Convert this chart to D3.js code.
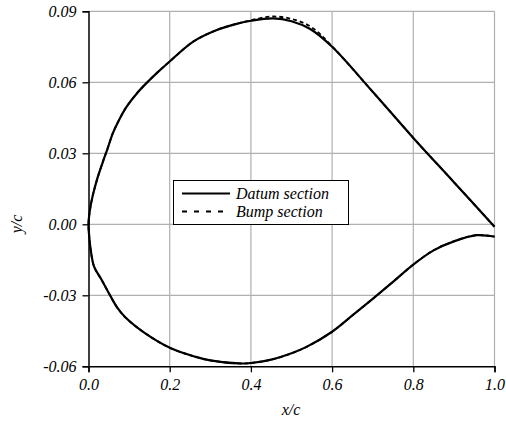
<!DOCTYPE html>
<html><head><meta charset="utf-8">
<script src="https://cdn.jsdelivr.net/npm/d3@7"></script>
<style>body{margin:0;background:#fff}svg{display:block}</style>
</head><body><svg id="c" width="506" height="421"></svg>
<script>
const FONT = "Liberation Serif";
// Datum section (upper surface, trailing edge -> leading edge)
const datumUpperX = [1.0, 0.90, 0.80, 0.70, 0.60, 0.546, 0.50, 0.455, 0.40, 0.36, 0.316, 0.258, 0.20, 0.17, 0.143, 0.12, 0.094, 0.075, 0.06, 0.047, 0.035, 0.022, 0.01, 0.003, 0.0];
const datumUpperY = [-0.001, 0.0178, 0.0365, 0.0560, 0.0750, 0.0825, 0.0858, 0.0870, 0.0860, 0.0845, 0.0821, 0.0772, 0.0688, 0.0642, 0.0597, 0.0555, 0.0497, 0.0440, 0.0385, 0.0320, 0.0262, 0.0195, 0.0118, 0.0055, 0.0];
// Datum section (lower surface, leading edge -> trailing edge)
const datumLowerX = [0.0, 0.002, 0.006, 0.014, 0.0325, 0.053, 0.07, 0.09, 0.139, 0.203, 0.262, 0.30, 0.37, 0.40, 0.45, 0.50, 0.537, 0.60, 0.65, 0.70, 0.75, 0.80, 0.85, 0.90, 0.956, 1.0];
const datumLowerY = [0.0, -0.0055, -0.0115, -0.0180, -0.0235, -0.0300, -0.0350, -0.0392, -0.0460, -0.0524, -0.0559, -0.0575, -0.0588, -0.0586, -0.0572, -0.0545, -0.0518, -0.0454, -0.0385, -0.0315, -0.0243, -0.0170, -0.0110, -0.0072, -0.0046, -0.0052];
// Bump section (upper surface differs near the crest)
const bumpUpperX = [1.0, 0.90, 0.80, 0.70, 0.60, 0.55, 0.50, 0.45, 0.40, 0.36, 0.316, 0.258, 0.20, 0.17, 0.143, 0.12, 0.094, 0.075, 0.06, 0.047, 0.035, 0.022, 0.01, 0.003, 0.0];
const bumpUpperY = [-0.001, 0.0178, 0.0365, 0.0560, 0.0752, 0.0832, 0.0868, 0.0878, 0.0862, 0.0845, 0.0821, 0.0772, 0.0688, 0.0642, 0.0597, 0.0555, 0.0497, 0.0440, 0.0385, 0.0320, 0.0262, 0.0195, 0.0118, 0.0055, 0.0];
const bumpLowerX = datumLowerX;
const bumpLowerY = datumLowerY;

const xTicks = [0.0, 0.2, 0.4, 0.6, 0.8, 1.0];
const yTicks = [-0.06, -0.03, 0.00, 0.03, 0.06, 0.09];
const seriesNames = ["Datum section", "Bump section"];

const svg = d3.select("#c");
const L = 88.5, R = 494.5, T = 11.3, B = 366.3;
const x = d3.scaleLinear().domain([0, 1]).range([L, R]);
const y = d3.scaleLinear().domain([-0.06, 0.09]).range([B, T]);

// grid
const g = svg.append("g");
g.selectAll("line.vx").data(xTicks.slice(1)).join("line")
  .attr("x1", d => x(d)).attr("x2", d => x(d)).attr("y1", T).attr("y2", B)
  .attr("stroke", "#b0b0b0").attr("stroke-width", 1.2);
g.selectAll("line.hy").data(yTicks.slice(1)).join("line")
  .attr("y1", d => y(d)).attr("y2", d => y(d)).attr("x1", L).attr("x2", R)
  .attr("stroke", "#b0b0b0").attr("stroke-width", 1.2);

// axes
const fmtY = d => d3.format(".2f")(d).replace("\u2212", "-");
const xa = svg.append("g").attr("transform", `translate(0,${B})`)
  .call(d3.axisBottom(x).tickValues(xTicks).tickFormat(d3.format(".1f")).tickSize(6).tickPadding(6));
const ya = svg.append("g").attr("transform", `translate(${L},0)`)
  .call(d3.axisLeft(y).tickValues(yTicks).tickFormat(fmtY).tickSize(6).tickPadding(6));
[xa, ya].forEach(a => {
  a.attr("font-family", FONT).attr("font-size", 16);
  a.select(".domain").attr("stroke", "#000").attr("stroke-width", 1.5);
  a.selectAll(".tick line").attr("stroke", "#000").attr("stroke-width", 1.3);
  a.selectAll(".tick text").attr("fill", "#000").attr("font-style", "italic");
});

// curves
const line = d3.line().x(d => x(d[0])).y(d => y(d[1])).curve(d3.curveCatmullRom.alpha(0.5));
const datumPts = datumUpperX.map((v, i) => [v, datumUpperY[i]]).concat(datumLowerX.map((v, i) => [v, datumLowerY[i]]).slice(1));
const bumpPts = bumpUpperX.map((v, i) => [v, bumpUpperY[i]]).concat(bumpLowerX.map((v, i) => [v, bumpLowerY[i]]).slice(1));
svg.append("path").attr("d", line(datumPts)).attr("fill", "none").attr("stroke", "#000").attr("stroke-width", 2.2);
svg.append("path").attr("d", line(bumpPts)).attr("fill", "none").attr("stroke", "#000").attr("stroke-width", 1.8).attr("stroke-dasharray", "4,3");

// legend
const lg = svg.append("g").attr("font-family", FONT).attr("font-style", "italic").attr("font-size", 16);
lg.append("rect").attr("x", 173.5).attr("y", 180.5).attr("width", 175).attr("height", 44)
  .attr("fill", "#fff").attr("stroke", "#000").attr("stroke-width", 1);
lg.append("line").attr("x1", 182).attr("x2", 230).attr("y1", 193.5).attr("y2", 193.5).attr("stroke", "#000").attr("stroke-width", 2.2);
lg.append("line").attr("x1", 182).attr("x2", 230).attr("y1", 211.5).attr("y2", 211.5).attr("stroke", "#000").attr("stroke-width", 2).attr("stroke-dasharray", "5,7");
lg.selectAll("text").data(seriesNames).join("text")
  .attr("x", 236).attr("y", (d, i) => 198.5 + i * 18.3).attr("fill", "#000").text(d => d);

// axis titles
svg.append("text").attr("x", 291).attr("y", 415).attr("text-anchor", "middle").attr("font-size", 16)
  .attr("font-family", FONT).attr("font-style", "italic").text("x/c");
svg.append("text").attr("transform", "translate(22,224) rotate(-90)").attr("text-anchor", "middle").attr("font-size", 16)
  .attr("font-family", FONT).attr("font-style", "italic").text("y/c");
</script></body></html>
